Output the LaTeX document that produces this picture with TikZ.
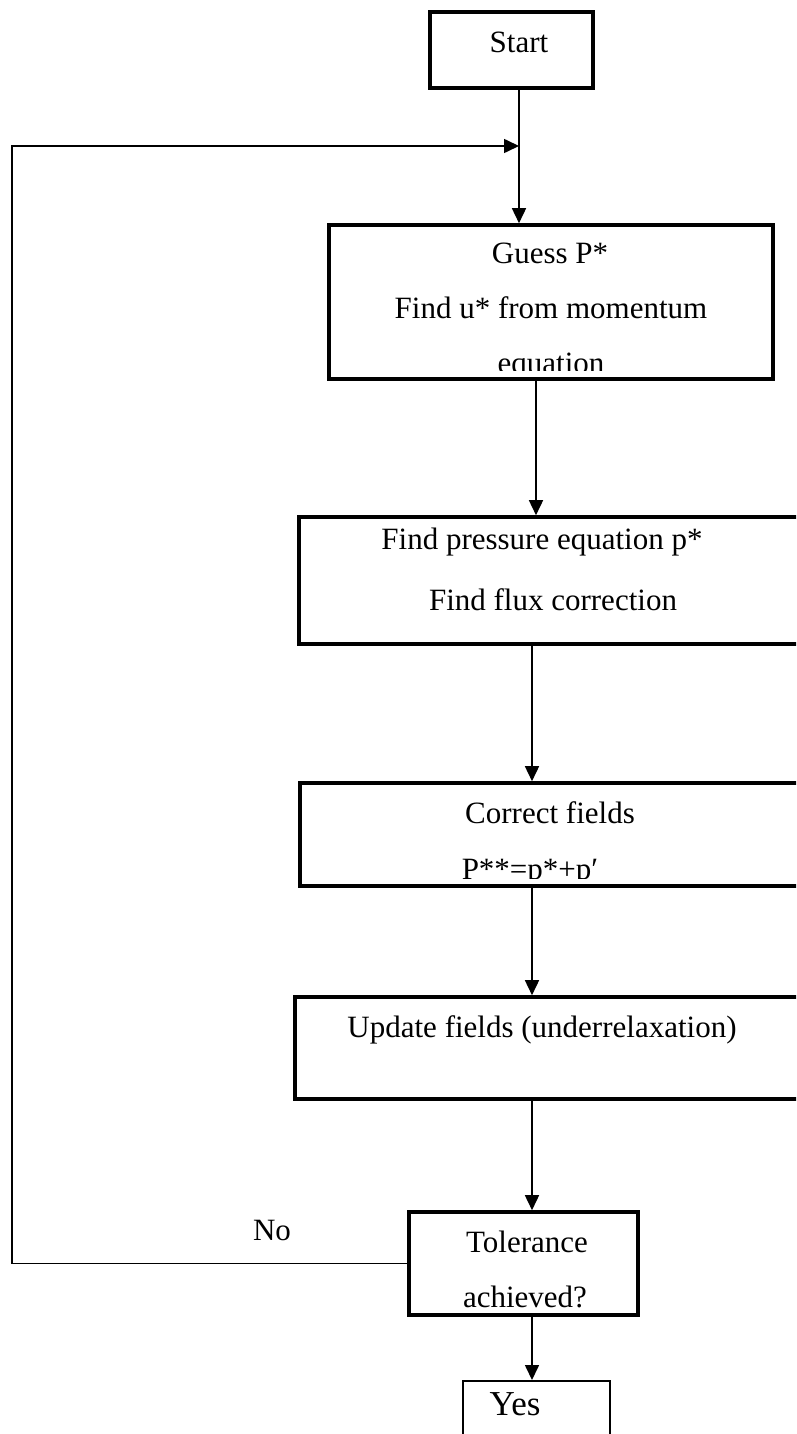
\documentclass[tikz,border=0pt]{standalone}
\usepackage{fontspec}
\setmainfont{Liberation Serif}
\usetikzlibrary{arrows.meta,fit}
\tikzset{
  box/.style={draw=black, line width=3.6bp, inner sep=0pt, fill=white},
  thinbox/.style={draw=black, line width=2bp, inner sep=0pt, fill=white},
  txt/.style={anchor=base, inner sep=0pt, font=\fontsize{31bp}{37bp}\selectfont},
  bigtxt/.style={anchor=base, inner sep=0pt, font=\fontsize{35bp}{40bp}\selectfont},
  arr/.style={line width=1.6bp, -{Triangle[length=15bp,width=14bp]}},
  con/.style={line width=1.6bp}
}
\begin{document}
\begin{tikzpicture}[x=1bp,y=-1bp]
\path[use as bounding box, clip] (0,0) rectangle (796,1434);
\fill[white] (0,0) rectangle (796,1434);

% boxes
\node[box, fit={(430,12) (593,88)}] (start) {};
\node[box, fit={(329,225) (773,379)}] (guess) {};
\node[box, fit={(299,517) (900,644)}] (press) {};
\node[box, fit={(300,783) (900,886)}] (corr) {};
\node[box, fit={(295,997) (900,1099)}] (upd) {};
\node[box, fit={(409,1212) (638,1315)}] (tol) {};
\node[thinbox, fit={(463,1381) (610,1470)}] (yes) {};

% texts
\node[txt] (tstart) at (519,53) {Start};
\begin{scope}
\clip (330,226) rectangle (772,370);
\node[txt] (tg1) at (550,263) {Guess P*};
\node[txt] (tg2) at (551,318) {Find u* from momentum};
\node[txt] (tg3) at (551,373) {equation};
\end{scope}
\node[txt] (tp1) at (542,549) {Find pressure equation p*};
\node[txt] (tp2) at (553,610) {Find flux correction};
\begin{scope}
\clip (301,784) rectangle (796,878);
\node[txt] (tc1) at (550,823) {Correct fields};
\node[txt] (tc2) at (530,879) {P**=p*+p′};
\end{scope}
\node[txt] (tu1) at (542,1037) {Update fields (underrelaxation)};
\node[txt] (tt1) at (527,1252) {Tolerance};
\node[txt] (tt2) at (525,1307) {achieved?};
\node[bigtxt] (tyes) at (515,1415) {Yes};
\node[txt] (tno) at (272,1240) {No};

% connector columns
\coordinate (ca) at (519,0);
\coordinate (cb) at (536,0);
\coordinate (cc) at (532,0);
\coordinate (loopc) at (12,146);
\coordinate (loopend) at (519,146);

% connectors
\draw[arr] (start.south -| ca) -- (guess.north -| ca);
\draw[arr] (guess.south -| cb) -- (press.north -| cb);
\draw[arr] (press.south -| cc) -- (corr.north -| cc);
\draw[arr] (corr.south -| cc) -- (upd.north -| cc);
\draw[arr] (upd.south -| cc) -- (tol.north -| cc);
\draw[arr] (tol.south -| cc) -- (yes.north -| cc);
\draw[arr] (tol.west) -| (loopc) -- (loopend);
\end{tikzpicture}
\end{document}
